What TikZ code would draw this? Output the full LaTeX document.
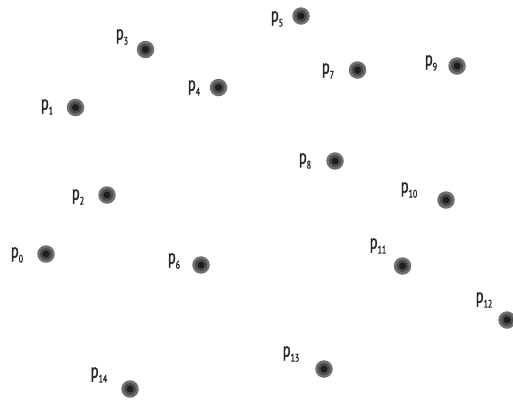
\documentclass[tikz,border=0pt]{standalone}
\usepackage{fontspec}
\setmainfont[FakeStretch=0.72,FakeBold=1.5]{PT Sans}
\definecolor{dotouter}{RGB}{112,112,112}
\definecolor{dotmid}{RGB}{75,75,75}
\definecolor{dotcore}{RGB}{30,30,30}
\newcommand\plab[1]{p\raisebox{-5pt}{\fontsize{11}{11}\selectfont #1}}
\tikzset{
  dotnode/.style={circle, fill=dotouter, minimum size=17.5pt, inner sep=0pt,
    path picture={\fill[dotmid] (path picture bounding box.center) circle (6pt);
                  \fill[dotcore] (path picture bounding box.center) circle (3.5pt);}},
  labnode/.style={inner sep=0pt, font=\fontsize{20}{20}\selectfont, text=black!85}
}
\begin{document}
\begin{tikzpicture}[x=1pt,y=-1pt]
\useasboundingbox (0,0) rectangle (513,400);
\node[dotnode] (p0) at (46,254) {};
\node[dotnode] (p1) at (75.5,107.5) {};
\node[dotnode] (p2) at (107,195) {};
\node[dotnode] (p3) at (145.5,49.5) {};
\node[dotnode] (p4) at (218.5,87.5) {};
\node[dotnode] (p5) at (301,16) {};
\node[dotnode] (p6) at (201,265) {};
\node[dotnode] (p7) at (357.5,70) {};
\node[dotnode] (p8) at (335,161) {};
\node[dotnode] (p9) at (457,66) {};
\node[dotnode] (p10) at (446,200) {};
\node[dotnode] (p11) at (402.5,266) {};
\node[dotnode] (p12) at (507,320) {};
\node[dotnode] (p13) at (324,369) {};
\node[dotnode] (p14) at (130,389) {};
\node[labnode] (l0) at (17,255) {\plab{0}};
\node[labnode] (l1) at (47,107) {\plab{1}};
\node[labnode] (l2) at (78,197) {\plab{2}};
\node[labnode] (l3) at (122,37) {\plab{3}};
\node[labnode] (l4) at (194,88) {\plab{4}};
\node[labnode] (l5) at (277,19) {\plab{5}};
\node[labnode] (l6) at (174,261) {\plab{6}};
\node[labnode] (l7) at (328,71) {\plab{7}};
\node[labnode] (l8) at (305,161) {\plab{8}};
\node[labnode] (l9) at (431,63) {\plab{9}};
\node[labnode] (l10) at (409,190) {\plab{10}};
\node[labnode] (l11) at (378,246) {\plab{11}};
\node[labnode] (l12) at (484,300) {\plab{12}};
\node[labnode] (l13) at (291,354) {\plab{13}};
\node[labnode] (l14) at (99,375) {\plab{14}};
\end{tikzpicture}
\end{document}
